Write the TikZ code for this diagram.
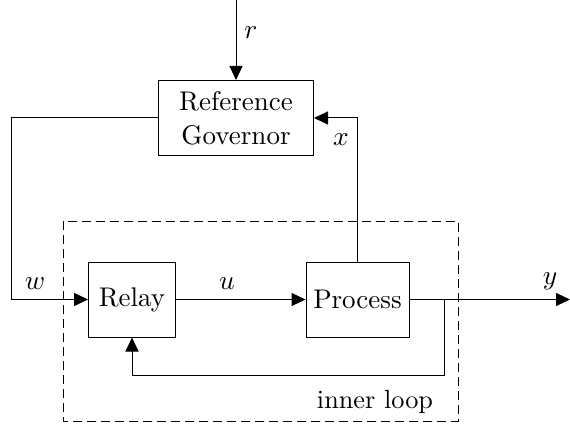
\documentclass[tikz,border=0pt]{standalone}
\usetikzlibrary{arrows.meta}
\begin{document}
\begin{tikzpicture}[x=0.4pt,y=-0.4pt,
  blk/.style={draw,line width=0.4pt,inner sep=0pt,align=center,font=\fontsize{10.8}{13.5}\selectfont},
  lbl/.style={inner sep=0pt,font=\fontsize{10.5}{13}\selectfont},
  wire/.style={line width=0.4pt},
  arr/.style={wire,-{Triangle[length=5.6pt,width=5.2pt]}},
  loopbox/.style={dash pattern=on 3.6pt off 2pt,line width=0.4pt}]
\useasboundingbox (0,0) rectangle (570,425);
\node[blk,minimum width=62pt,minimum height=30pt] (rg) at (236,118) {Reference\\Governor};
\node[blk,minimum width=34.8pt,minimum height=30pt] (relay) at (132,299.5) {Relay};
\node[blk,minimum width=41.2pt,minimum height=30pt] (proc) at (357.5,299.5) {Process};
\coordinate (rtop) at (236,0);
\coordinate (wc) at (11,299.5);
\coordinate (yend) at (570,299.5);
\coordinate (br) at (444,299.5);
\coordinate (fb) at (444,375);
\draw[loopbox] (63,221) rectangle (458,421);
\draw[arr] (rtop) -- (rg.north);
\draw[arr] (rg.west) -| (wc) -- (relay.west);
\draw[arr] (relay.east) -- (proc.west);
\draw[arr] (proc.north) |- (rg.east);
\draw[arr] (proc.east) -- (yend);
\draw[arr] (br) -- (fb) -| (relay.south);
\node[lbl] (lr) at (251,33) {$r$};
\node[lbl] (lx) at (341,140) {$x$};
\node[lbl] (lw) at (35,284) {$w$};
\node[lbl] (lu) at (227,284) {$u$};
\node[lbl] (ly) at (550,281) {$y$};
\node[lbl] (il) at (375,402) {inner loop};
\end{tikzpicture}
\end{document}
